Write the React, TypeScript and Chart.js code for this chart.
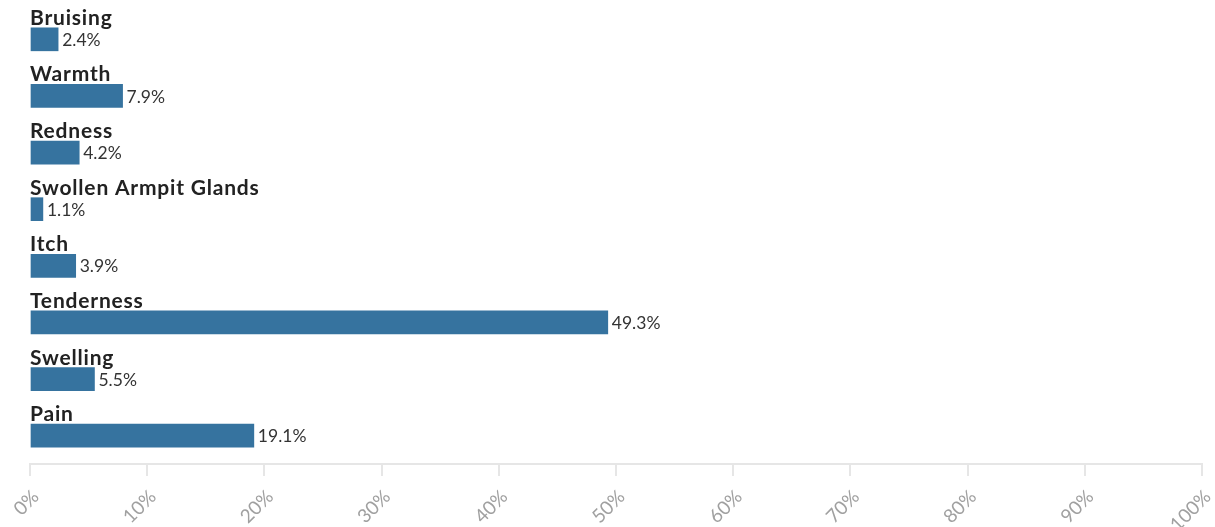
import React, { useEffect, useRef } from "react";
import { Chart, registerables } from "chart.js";

Chart.register(...registerables);

const categories = [
  "Bruising",
  "Warmth",
  "Redness",
  "Swollen Armpit Glands",
  "Itch",
  "Tenderness",
  "Swelling",
  "Pain",
];
const values = [2.4, 7.9, 4.2, 1.1, 3.9, 49.3, 5.5, 19.1];
const tickValues = [0, 10, 20, 30, 40, 50, 60, 70, 80, 90, 100];
const tickLabels = ["0%", "10%", "20%", "30%", "40%", "50%", "60%", "70%", "80%", "90%", "100%"];

const BAR_COLOR = "#36739f";
const FONT = "Lato, 'Source Sans Pro', 'Noto Sans', sans-serif";

const labelPlugin = {
  id: "barLabels",
  afterDatasetsDraw(chart: any) {
    const ctx = chart.ctx;
    const meta = chart.getDatasetMeta(0);
    ctx.save();
    meta.data.forEach((bar: any, i: number) => {
      const h = bar.height;
      const top = bar.y - h / 2;
      ctx.font = `bold 21px ${FONT}`;
      (ctx as any).letterSpacing = "0.8px";
      ctx.fillStyle = "#222222";
      ctx.textAlign = "left";
      ctx.textBaseline = "alphabetic";
      ctx.fillText(categories[i], chart.chartArea.left, top - 3);
      (ctx as any).letterSpacing = "0px";
      ctx.font = `17.5px ${FONT}`;
      ctx.fillStyle = "#333333";
      ctx.textBaseline = "middle";
      ctx.fillText(values[i].toFixed(1) + "%", bar.x + 4, bar.y + 1);
    });
    // rotated x tick labels
    const xs = chart.scales.x;
    const y0 = xs.top + 34;
    ctx.font = `19px ${FONT}`;
    ctx.fillStyle = "#a0a0a0";
    ctx.textAlign = "right";
    ctx.textBaseline = "alphabetic";
    tickValues.forEach((v, i) => {
      const x = xs.getPixelForValue(v) + 10;
      ctx.save();
      ctx.translate(x, y0);
      ctx.rotate(-Math.PI / 4);
      ctx.fillText(tickLabels[i], 0, 0);
      ctx.restore();
    });
    ctx.restore();
  },
};

export default function App() {
  const ref = useRef<HTMLCanvasElement | null>(null);
  useEffect(() => {
    if (!ref.current) return;
    const chart = new Chart(ref.current, {
      type: "bar",
      data: {
        labels: categories,
        datasets: [
          {
            data: values,
            backgroundColor: BAR_COLOR,
            barThickness: 23,
            borderWidth: 0,
          },
        ],
      },
      options: {
        indexAxis: "y",
        animation: false,
        responsive: true,
        maintainAspectRatio: false,
        layout: { padding: { left: 30, right: 13, top: 11, bottom: 0 } },
        plugins: {
          legend: { display: false },
          tooltip: { enabled: false },
        },
        scales: {
          y: { display: false },
          x: {
            min: 0,
            max: 100,
            afterBuildTicks(scale: any) {
              scale.ticks = tickValues.map((v) => ({ value: v }));
            },
            afterFit(scale: any) {
              scale.height = 63;
              scale.paddingLeft = 0;
              scale.paddingRight = 0;
            },
            border: { display: true, color: "#e6e6e6", width: 2 },
            grid: {
              drawOnChartArea: false,
              drawTicks: true,
              tickLength: 12,
              color: "#e6e6e6",
              lineWidth: 2,
            },
            ticks: {
              display: false,
            },
          },
        },
      },
      plugins: [labelPlugin],
    });
    return () => chart.destroy();
  }, []);
  return (
    <div style={{ position: "fixed", left: 0, top: 0, width: 1215, height: 527, background: "#fff" }}>
      <canvas ref={ref} />
    </div>
  );
}
